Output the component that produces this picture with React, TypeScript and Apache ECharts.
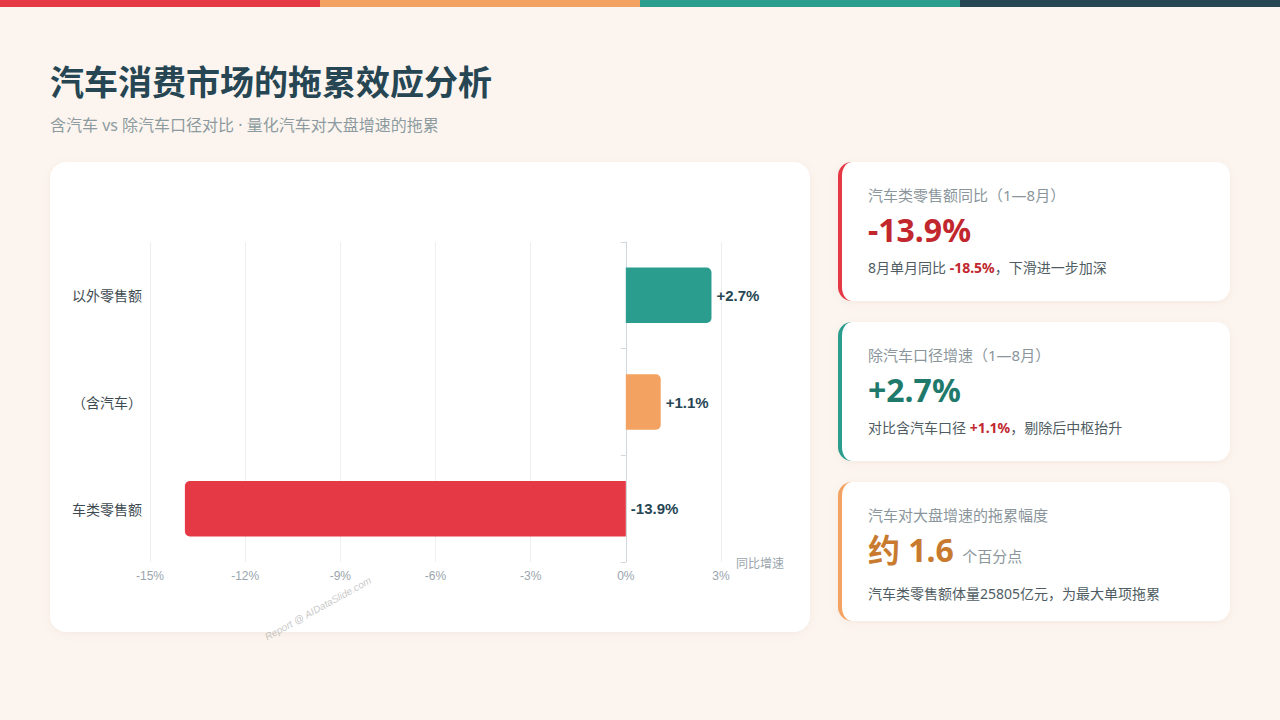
import { useEffect, useRef } from 'react';
import * as echarts from 'echarts';

// chart data
const categories = ['汽车类零售额', '社会消费品零售总额（含汽车）', '除汽车以外零售额'];
const growthValues = [-13.9, 1.1, 2.7];
const barColors = ['#e63946', '#f4a261', '#2a9d8f'];
const xMin = -15;
const xMax = 3;
const xInterval = 3;

const topStripe = ['#e63946', '#f4a261', '#2a9d8f', '#264653'];

const CJK = '"Noto Sans", "Noto Sans CJK SC", sans-serif';

function BarChart() {
  const chartRef = useRef<HTMLDivElement>(null);

  useEffect(() => {
    if (!chartRef.current) return;
    const chart = echarts.init(chartRef.current, undefined, { renderer: 'svg' });

    const option: any = {
      animation: false,
      textStyle: { fontFamily: '"Liberation Sans", "Noto Sans CJK SC", sans-serif' },
      // labels run past the card's left edge, as in the original slide
      grid: { left: 78, right: 69, top: 60, bottom: 50, containLabel: false, outerBoundsMode: 'none' },
      xAxis: {
        type: 'value',
        min: xMin,
        max: xMax,
        interval: xInterval,
        name: '同比增速',
        nameLocation: 'end',
        nameGap: 15,
        nameTextStyle: { color: '#9aa5ad', fontSize: 12, fontFamily: '"Noto Sans CJK SC", sans-serif' },
        axisLine: { show: false },
        axisTick: { show: false },
        axisLabel: { color: '#9aa5ad', fontSize: 12, margin: 8, formatter: '{value}%' },
        splitLine: { lineStyle: { color: '#edf0f3', width: 1 } },
      },
      yAxis: [
        {
          type: 'category',
          data: categories,
          axisLine: { show: false, onZero: false },
          axisTick: { show: false },
          axisLabel: { color: '#3d4a50', fontSize: 14, margin: 8, fontFamily: '"Noto Sans CJK SC", sans-serif' },
        },
        {
          // zero line with band ticks
          type: 'category',
          data: categories,
          position: 'left',
          axisLine: { show: true, onZero: true, lineStyle: { color: '#cfd8dc', width: 1 } },
          axisTick: { show: true, length: 5, lineStyle: { color: '#cfd8dc' } },
          axisLabel: { show: false },
          splitLine: { show: false },
        },
      ],
      series: [
        {
          type: 'bar',
          yAxisIndex: 0,
          barWidth: '52%',
          data: growthValues.map((v, i) => ({
            value: v,
            itemStyle: {
              color: barColors[i],
              borderRadius: v >= 0 ? [0, 5, 5, 0] : [5, 0, 0, 5],
            },
          })),
          label: {
            show: true,
            position: 'right',
            distance: 5,
            color: '#264653',
            fontSize: 15,
            fontWeight: 'bold',
            formatter: (p: any) => (p.value > 0 ? '+' : '') + p.value.toFixed(1) + '%',
          },
        },
      ],
    };

    chart.setOption(option);
    return () => chart.dispose();
  }, []);

  return <div ref={chartRef} style={{ width: 718, height: 430 }} />;
}

interface StatCardProps {
  top: number;
  accent: string;
  label: string;
  valueColor: string;
  value: React.ReactNode;
  note: React.ReactNode;
}

function StatCard({ top, accent, label, valueColor, value, note }: StatCardProps) {
  return (
    <div
      style={{
        position: 'absolute',
        left: 838,
        top,
        width: 392,
        height: 139,
        boxSizing: 'border-box',
        background: '#ffffff',
        borderRadius: 14,
        borderLeft: `4px solid ${accent}`,
        boxShadow: '0 2px 10px rgba(180, 150, 120, 0.10)',
        paddingLeft: 26,
        paddingTop: 22,
      }}
    >
      <div style={{ fontSize: 15, color: '#8a969c', lineHeight: '22px' }}>{label}</div>
      <div
        style={{
          fontSize: 32,
          fontWeight: 700,
          color: valueColor,
          lineHeight: '44px',
          marginTop: 2,
        }}
      >
        {value}
      </div>
      <div style={{ fontSize: 14, color: '#4f5d63', lineHeight: '22px', marginTop: 5 }}>{note}</div>
    </div>
  );
}

export default function App() {
  return (
    <div
      style={{
        position: 'fixed',
        left: 0,
        top: 0,
        width: 1280,
        height: 720,
        background: '#fcf5ef',
        fontFamily: CJK,
        overflow: 'hidden',
      }}
    >
      <div style={{ display: 'flex', height: 7 }}>
        {topStripe.map((c) => (
          <div key={c} style={{ flex: 1, background: c }} />
        ))}
      </div>

      <div
        style={{
          position: 'absolute',
          left: 50,
          top: 59,
          fontSize: 34,
          fontWeight: 700,
          color: '#264653',
          lineHeight: '46px',
        }}
      >
        汽车消费市场的拖累效应分析
      </div>
      <div
        style={{
          position: 'absolute',
          left: 50,
          top: 113,
          fontSize: 16,
          color: '#8d9ba0',
          lineHeight: '24px',
        }}
      >
        含汽车 vs 除汽车口径对比 · 量化汽车对大盘增速的拖累
      </div>

      <div
        style={{
          position: 'absolute',
          left: 50,
          top: 162,
          width: 760,
          height: 470,
          background: '#ffffff',
          borderRadius: 16,
          boxShadow: '0 2px 10px rgba(180, 150, 120, 0.10)',
        }}
      >
        <div style={{ position: 'absolute', left: 22, top: 20 }}>
          <BarChart />
        </div>
      </div>

      <StatCard
        top={162}
        accent="#e63946"
        label="汽车类零售额同比（1—8月）"
        valueColor="#c1272d"
        value="-13.9%"
        note={
          <>
            8月单月同比 <b style={{ color: '#c1272d' }}>-18.5%</b>，下滑进一步加深
          </>
        }
      />
      <StatCard
        top={322}
        accent="#2a9d8f"
        label="除汽车口径增速（1—8月）"
        valueColor="#1f7a6b"
        value="+2.7%"
        note={
          <>
            对比含汽车口径 <b style={{ color: '#c1272d' }}>+1.1%</b>，剔除后中枢抬升
          </>
        }
      />
      <StatCard
        top={482}
        accent="#f4a261"
        label="汽车对大盘增速的拖累幅度"
        valueColor="#c87a2f"
        value={
          <>
            约 1.6 <span style={{ fontSize: 15, fontWeight: 400, color: '#8a969c' }}>个百分点</span>
          </>
        }
        note="汽车类零售额体量25805亿元，为最大单项拖累"
      />

      <div
        style={{
          position: 'absolute',
          left: 256,
          top: 603,
          width: 124,
          textAlign: 'center',
          fontSize: 10,
          fontStyle: 'italic',
          color: 'rgba(150, 150, 150, 0.55)',
          transform: 'rotate(-29deg)',
          whiteSpace: 'nowrap',
          fontFamily: '"Liberation Sans", sans-serif',
        }}
      >
        Report @ AIDataSlide.com
      </div>
    </div>
  );
}
